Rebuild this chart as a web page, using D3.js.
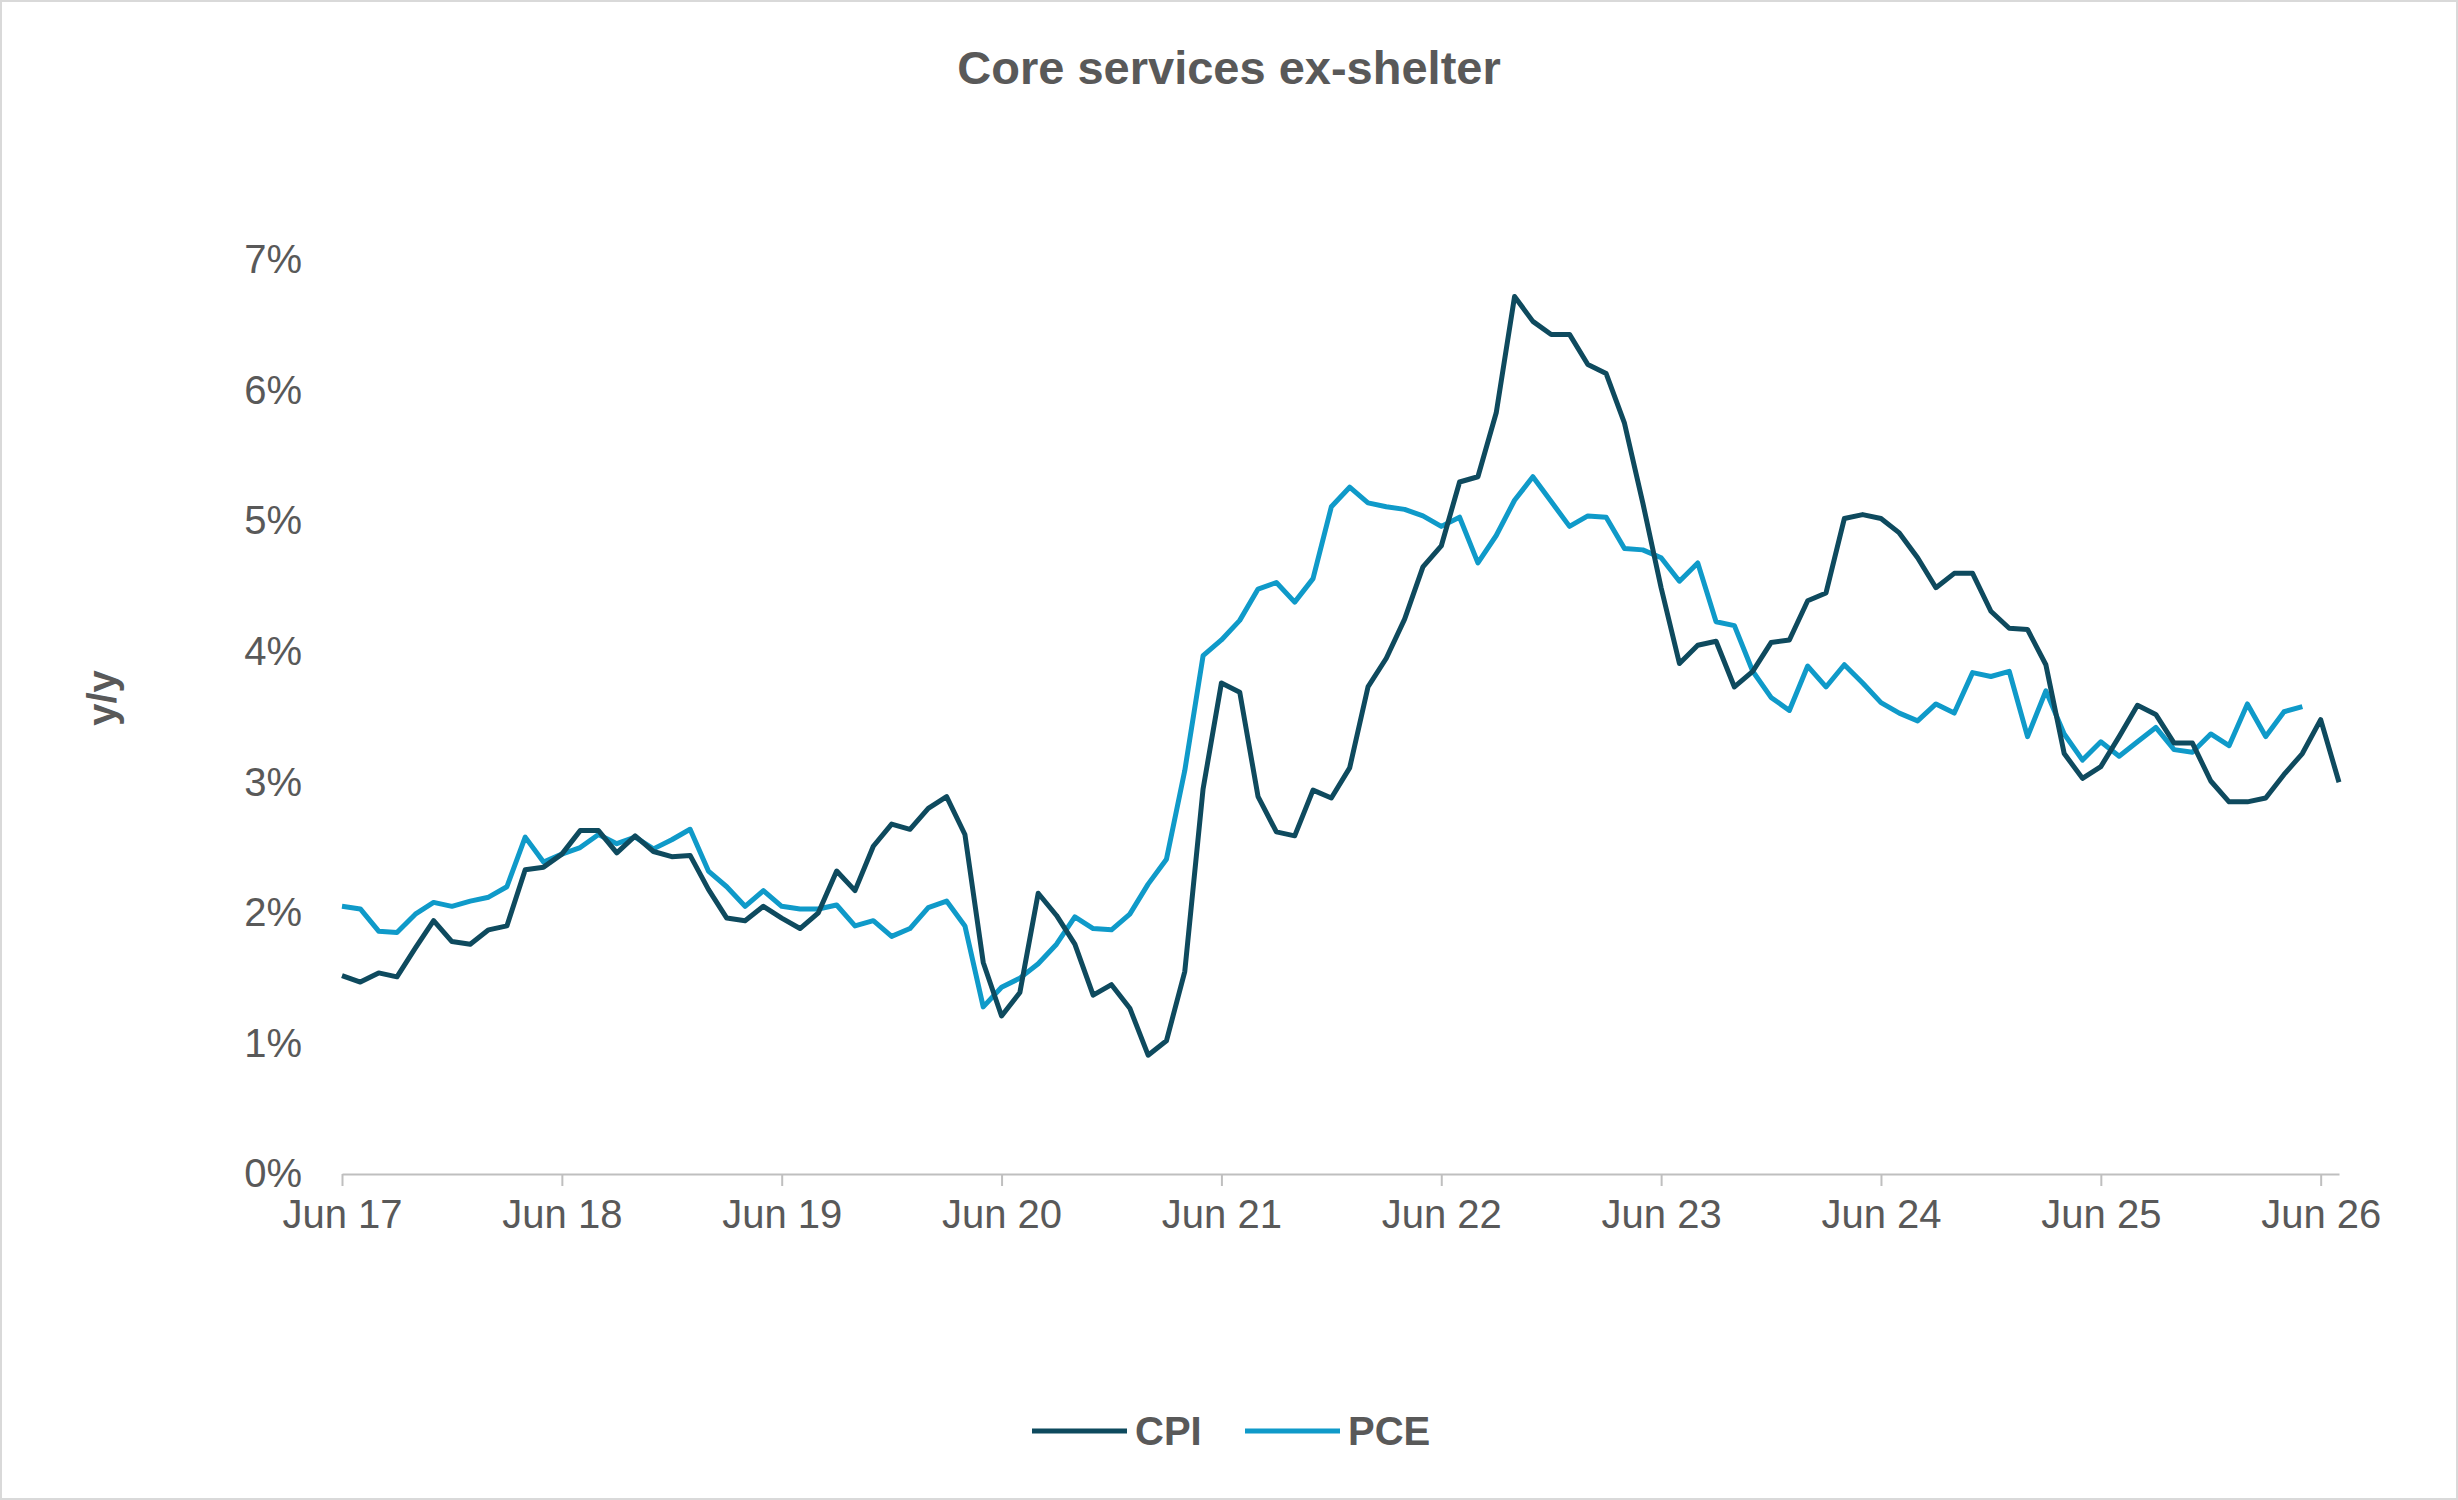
<!DOCTYPE html>
<html>
<head>
<meta charset="utf-8">
<script src="https://cdn.jsdelivr.net/npm/d3@7"></script>
<style>
  body { margin: 0; background: #fff; }
  svg { display: block; font-family: Arial, "Liberation Sans", sans-serif; }
</style>
</head>
<body>
<svg width="2458" height="1500"></svg>
<script>
// monthly values starting Jun 2017
var cpi = [1.52,1.47,1.54,1.51,1.73,1.94,1.78,1.76,1.87,1.9,2.33,2.35,
  2.45,2.63,2.63,2.46,2.59,2.47,2.43,2.44,2.18,1.96,1.94,2.05,
  1.96,1.88,2.0,2.32,2.17,2.51,2.68,2.64,2.8,2.89,2.6,1.62,
  1.21,1.39,2.15,1.98,1.76,1.37,1.45,1.27,0.91,1.02,1.55,2.95,
  3.76,3.69,2.89,2.62,2.59,2.94,2.88,3.11,3.73,3.95,4.25,4.65,
  4.81,5.3,5.34,5.83,6.72,6.53,6.43,6.43,6.2,6.13,5.75,5.14,
  4.49,3.91,4.05,4.08,3.73,3.85,4.07,4.09,4.39,4.45,5.02,5.05,
  5.02,4.91,4.72,4.49,4.6,4.6,4.31,4.18,4.17,3.9,3.22,3.03,
  3.12,3.35,3.59,3.52,3.3,3.3,3.01,2.85,2.85,2.88,3.06,3.22,
  3.48,3.0]
var pce = [2.05,2.03,1.86,1.85,1.99,2.08,2.05,2.09,2.12,2.2,2.58,2.39,
  2.45,2.5,2.6,2.53,2.58,2.49,2.56,2.64,2.32,2.2,2.05,2.17,
  2.05,2.03,2.03,2.06,1.9,1.94,1.82,1.88,2.04,2.09,1.9,1.28,
  1.43,1.5,1.61,1.76,1.97,1.88,1.87,1.99,2.22,2.41,3.09,3.97,
  4.09,4.24,4.48,4.53,4.38,4.56,5.11,5.26,5.14,5.11,5.09,5.04,
  4.96,5.03,4.68,4.89,5.16,5.34,5.15,4.96,5.04,5.03,4.79,4.78,
  4.72,4.54,4.68,4.23,4.2,3.85,3.65,3.55,3.89,3.73,3.9,3.76,
  3.61,3.53,3.47,3.6,3.53,3.84,3.81,3.85,3.35,3.7,3.37,3.17,
  3.31,3.2,3.31,3.42,3.25,3.23,3.37,3.28,3.6,3.35,3.54,3.58]
var tickLabels = ['Jun 17','Jun 18','Jun 19','Jun 20','Jun 21','Jun 22','Jun 23','Jun 24','Jun 25','Jun 26']
var yTicks = [0,1,2,3,4,5,6,7]

var svg = d3.select('svg')
var textColor = '#595959'

svg.append('rect').attr('x',1).attr('y',1).attr('width',2456).attr('height',1498)
  .attr('fill','#fff').attr('stroke','#d9d9d9').attr('stroke-width',2)

var x = d3.scaleLinear().domain([0,109]).range([342,2339])
var y = d3.scaleLinear().domain([0,7]).range([1174,260])

svg.append('text').attr('x',1229).attr('y',84).attr('text-anchor','middle')
  .attr('font-size',47).attr('font-weight','bold').attr('fill',textColor)
  .text('Core services ex-shelter')

// y axis labels
var yAxis = svg.append('g').attr('transform','translate(342,0)')
  .call(d3.axisLeft(y).tickValues(yTicks).tickFormat(function(d){ return d + '%' }).tickSize(0).tickPadding(40))
yAxis.select('.domain').remove()
yAxis.selectAll('text').attr('font-size',40).attr('fill',textColor).attr('font-family','Arial, "Liberation Sans", sans-serif')

svg.append('text').attr('transform','translate(116,698) rotate(-90)').attr('text-anchor','middle')
  .attr('font-size',40).attr('font-weight','bold').attr('fill',textColor).text('y/y')

// x axis
var xAxis = svg.append('g').attr('transform','translate(0,1174)')
  .call(d3.axisBottom(x).tickValues(d3.range(0,109,12))
    .tickFormat(function(d,i){ return tickLabels[i] }).tickSize(12).tickPadding(14).tickSizeOuter(0))
xAxis.select('.domain').attr('stroke','#bfbfbf').attr('stroke-width',2)
xAxis.selectAll('line').attr('stroke','#bfbfbf').attr('stroke-width',2)
xAxis.selectAll('text').attr('font-size',40).attr('fill',textColor).attr('font-family','Arial, "Liberation Sans", sans-serif')

var line = d3.line().x(function(d,i){ return x(i) }).y(function(d){ return y(d) })

svg.append('path').datum(pce).attr('d',line).attr('fill','none')
  .attr('stroke','#0f9ac9').attr('stroke-width',5).attr('stroke-linejoin','round')
svg.append('path').datum(cpi).attr('d',line).attr('fill','none')
  .attr('stroke','#0e4a5e').attr('stroke-width',5).attr('stroke-linejoin','round')

// legend
var legend = [{name:'CPI', color:'#0e4a5e', x:1032},{name:'PCE', color:'#0f9ac9', x:1245}]
legend.forEach(function(l){
  svg.append('line').attr('x1',l.x).attr('x2',l.x+95).attr('y1',1431).attr('y2',1431)
    .attr('stroke',l.color).attr('stroke-width',5)
  svg.append('text').attr('x',l.x+103).attr('y',1445).attr('font-size',40)
    .attr('font-weight','bold').attr('fill',textColor).text(l.name)
})
</script>
</body>
</html>
